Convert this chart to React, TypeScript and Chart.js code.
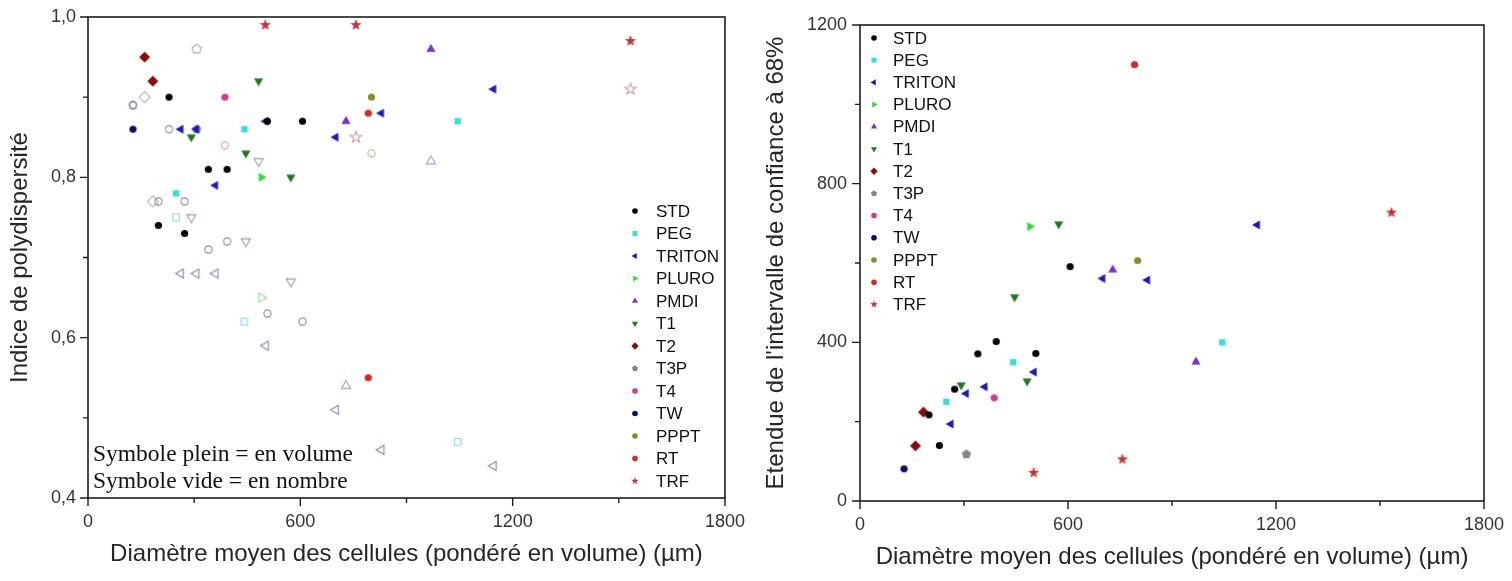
import React, { useEffect, useRef } from 'react';
import { Chart, registerables } from 'chart.js';
Chart.register(...registerables);

// ---------------- DATA ----------------
// D = volume-weighted mean cell diameter (µm)
// PDI_V = polydispersity (volume), PDI_N = polydispersity (number), IC = 68% CI width
const STD_D = [199, 229, 273, 340, 393, 507, 606];
const STD_PDI_V = [0.74, 0.9, 0.73, 0.81, 0.81, 0.87, 0.87];
const STD_PDI_N = [0.77, 0.86, 0.77, 0.71, 0.72, 0.63, 0.62];
const STD_IC = [217, 140, 282, 371, 402, 372, 591];

const PEG_D = [249, 442, 1045];
const PEG_PDI_V = [0.78, 0.86, 0.87];
const PEG_PDI_N = [0.75, 0.62, 0.47];
const PEG_IC = [250, 350, 400];

const TRITON_D = [262, 306, 360, 502, 700, 829, 1146];
const TRITON_PDI_V = [0.86, 0.86, 0.79, 0.87, 0.85, 0.88, 0.91];
const TRITON_PDI_N = [0.68, 0.68, 0.68, 0.59, 0.51, 0.46, 0.44];
const TRITON_IC = [194, 271, 288, 325, 561, 557, 696];

const PLURO_D = [490];
const PLURO_PDI_V = [0.8];
const PLURO_PDI_N = [0.65];
const PLURO_IC = [692];

const PMDI_D = [729, 969];
const PMDI_PDI_V = [0.87, 0.96];
const PMDI_PDI_N = [0.54, 0.82];
const PMDI_IC = [583, 351];

const T1_D = [292, 446, 482, 573];
const T1_PDI_V = [0.85, 0.83, 0.92, 0.8];
const T1_PDI_N = [0.75, 0.72, 0.82, 0.67];
const T1_IC = [292, 514, 302, 698];

const T2_D = [160, 183];
const T2_PDI_V = [0.95, 0.92];
const T2_PDI_N = [0.9, 0.77];
const T2_IC = [139, 224];

const T3P_D = [307];
const T3P_PDI_V = [0.86];
const T3P_PDI_N = [0.96];
const T3P_IC = [118];

const T4_D = [387];
const T4_PDI_V = [0.9];
const T4_PDI_N = [0.84];
const T4_IC = [260];

const TW_D = [127];
const TW_PDI_V = [0.86];
const TW_PDI_N = [0.89];
const TW_IC = [81];

const PPPT_D = [801];
const PPPT_PDI_V = [0.9];
const PPPT_PDI_N = [0.83];
const PPPT_IC = [606];

const RT_D = [792];
const RT_PDI_V = [0.88];
const RT_PDI_N = [0.55];
const RT_IC = [1100];

const TRF_D = [501, 757, 1533];
const TRF_PDI_V = [0.99, 0.99, 0.97];
const TRF_PDI_N = [null, 0.85, 0.91];
const TRF_IC = [71, 105, 727];

const X_TICKS = [0, 600, 1200, 1800];
const LEFT_Y_TICKS = [0.4, 0.6, 0.8, 1.0];
const RIGHT_Y_TICKS = [0, 400, 800, 1200];

const X_TITLE = 'Diamètre moyen des cellules (pondéré en volume) (µm)';
const LEFT_Y_TITLE = 'Indice de polydispersité';
const RIGHT_Y_TITLE = "Etendue de l'intervalle de confiance à 68%";
const NOTE_LINES = ['Symbole plein = en volume', 'Symbole vide = en nombre'];

// ---------------- STYLES ----------------
type Shape = 'circle' | 'square' | 'triLeft' | 'triRight' | 'triUp' | 'triDown' | 'diamond' | 'pentagon' | 'star';

const STYLE: Record<string, { color: string; open: string; shape: Shape; openFilled?: boolean }> = {
  STD: { color: '#000000', open: '#8c8c8c', shape: 'circle' },
  PEG: { color: '#38dede', open: '#7fd6d6', shape: 'square' },
  TRITON: { color: '#1818c8', open: '#8888bb', shape: 'triLeft' },
  PLURO: { color: '#30dc30', open: '#8ede8e', shape: 'triRight' },
  PMDI: { color: '#7b2fd3', open: '#ad98cf', shape: 'triUp' },
  T1: { color: '#1d7a1d', open: '#8fa88f', shape: 'triDown' },
  T2: { color: '#8b0a0a', open: '#c4aebd', shape: 'diamond' },
  T3P: { color: '#858585', open: '#a8a8a8', shape: 'pentagon' },
  T4: { color: '#e0348c', open: '#d8a0b4', shape: 'circle' },
  TW: { color: '#0c0c70', open: '#4c4c96', shape: 'circle' },
  PPPT: { color: '#8c8c22', open: '#bcbc96', shape: 'circle' },
  RT: { color: '#e02424', open: '#e02424', shape: 'circle', openFilled: true },
  TRF: { color: '#cc3333', open: '#d89a9a', shape: 'star' },
};

const SERIES = [
  { name: 'STD', d: STD_D, v: STD_PDI_V, n: STD_PDI_N, ic: STD_IC },
  { name: 'PEG', d: PEG_D, v: PEG_PDI_V, n: PEG_PDI_N, ic: PEG_IC },
  { name: 'TRITON', d: TRITON_D, v: TRITON_PDI_V, n: TRITON_PDI_N, ic: TRITON_IC },
  { name: 'PLURO', d: PLURO_D, v: PLURO_PDI_V, n: PLURO_PDI_N, ic: PLURO_IC },
  { name: 'PMDI', d: PMDI_D, v: PMDI_PDI_V, n: PMDI_PDI_N, ic: PMDI_IC },
  { name: 'T1', d: T1_D, v: T1_PDI_V, n: T1_PDI_N, ic: T1_IC },
  { name: 'T2', d: T2_D, v: T2_PDI_V, n: T2_PDI_N, ic: T2_IC },
  { name: 'T3P', d: T3P_D, v: T3P_PDI_V, n: T3P_PDI_N, ic: T3P_IC },
  { name: 'T4', d: T4_D, v: T4_PDI_V, n: T4_PDI_N, ic: T4_IC },
  { name: 'TW', d: TW_D, v: TW_PDI_V, n: TW_PDI_N, ic: TW_IC },
  { name: 'PPPT', d: PPPT_D, v: PPPT_PDI_V, n: PPPT_PDI_N, ic: PPPT_IC },
  { name: 'RT', d: RT_D, v: RT_PDI_V, n: RT_PDI_N, ic: RT_IC },
  { name: 'TRF', d: TRF_D, v: TRF_PDI_V, n: TRF_PDI_N, ic: TRF_IC },
];

const SANS = '"Liberation Sans", Arial, sans-serif';
Chart.defaults.font.family = SANS;

function pathShape(ctx: CanvasRenderingContext2D, shape: Shape, x: number, y: number, r: number) {
  ctx.beginPath();
  const poly = (n: number, a0: number, rad: (k: number) => number) => {
    for (let k = 0; k < n; k++) {
      const a = a0 + (k * 2 * Math.PI) / n;
      const px = x + Math.cos(a) * rad(k);
      const py = y + Math.sin(a) * rad(k);
      if (k) ctx.lineTo(px, py);
      else ctx.moveTo(px, py);
    }
    ctx.closePath();
  };
  switch (shape) {
    case 'circle':
      ctx.arc(x, y, r, 0, Math.PI * 2);
      break;
    case 'square': {
      const s = r * 0.85;
      ctx.rect(x - s, y - s, 2 * s, 2 * s);
      break;
    }
    case 'triUp':
      poly(3, -Math.PI / 2, () => r * 1.2);
      break;
    case 'triDown':
      poly(3, Math.PI / 2, () => r * 1.2);
      break;
    case 'triLeft':
      poly(3, Math.PI, () => r * 1.2);
      break;
    case 'triRight':
      poly(3, 0, () => r * 1.2);
      break;
    case 'diamond':
      poly(4, -Math.PI / 2, () => r * 1.25);
      break;
    case 'pentagon':
      poly(5, -Math.PI / 2, () => r * 1.1);
      break;
    case 'star':
      poly(10, -Math.PI / 2, (k) => (k % 2 ? r * 0.55 : r * 1.35));
      break;
  }
}

function markerImage(shape: Shape, r: number, color: string, filled: boolean) {
  const size = Math.ceil(r * 3 + 4);
  const c = document.createElement('canvas');
  c.width = size;
  c.height = size;
  const ctx = c.getContext('2d')!;
  pathShape(ctx, shape, size / 2, size / 2, r);
  if (filled) {
    ctx.fillStyle = color;
    ctx.fill();
  } else {
    ctx.strokeStyle = color;
    ctx.lineWidth = 1.1;
    ctx.stroke();
  }
  return c;
}

function markerRadius(shape: Shape) {
  if (shape === 'circle') return 3.6;
  if (shape === 'square') return 3.8;
  return 4.4;
}

function framePlugin(minorX: number[], majorX: number[], minorY: number[], majorY: number[]) {
  return {
    id: 'frameTicks',
    afterDraw(chart: any) {
      const { ctx, chartArea } = chart;
      const { left, right, top, bottom } = chartArea;
      const xs = chart.scales.x;
      const ys = chart.scales.y;
      ctx.save();
      ctx.strokeStyle = '#1e1e1e';
      ctx.lineWidth = 1.6;
      ctx.strokeRect(left, top, right - left, bottom - top);
      ctx.lineWidth = 1.4;
      ctx.beginPath();
      for (const v of minorX) {
        const p = xs.getPixelForValue(v);
        ctx.moveTo(p, bottom);
        ctx.lineTo(p, bottom + 5);
      }
      for (const v of majorX) {
        const p = xs.getPixelForValue(v);
        ctx.moveTo(p, bottom);
        ctx.lineTo(p, bottom + 8);
      }
      for (const v of minorY) {
        const p = ys.getPixelForValue(v);
        ctx.moveTo(left, p);
        ctx.lineTo(left - 5, p);
      }
      for (const v of majorY) {
        const p = ys.getPixelForValue(v);
        ctx.moveTo(left, p);
        ctx.lineTo(left - 8, p);
      }
      ctx.stroke();
      ctx.restore();
    },
  };
}

function legendPlugin(x: number, tx: number, y0: number, dy: number, r: number) {
  return {
    id: 'customLegend',
    afterDraw(chart: any) {
      const ctx: CanvasRenderingContext2D = chart.ctx;
      ctx.save();
      SERIES.forEach((s, i) => {
        const st = STYLE[s.name];
        const y = y0 + i * dy;
        pathShape(ctx, st.shape, x, y, st.shape === 'circle' ? r : r * 1.05);
        ctx.fillStyle = st.color;
        ctx.fill();
        ctx.fillStyle = '#111';
        ctx.font = `17px ${SANS}`;
        ctx.textBaseline = 'middle';
        ctx.textAlign = 'left';
        ctx.fillText(s.name, tx, y + 1);
      });
      ctx.restore();
    },
  };
}

function xScale(axisHeight: number, titlePadBottom: number) {
  return {
    type: 'linear',
    min: 0,
    max: 1800,
    afterFit: (s: any) => {
      s.height = axisHeight;
    },
    afterBuildTicks: (s: any) => {
      s.ticks = [0, 300, 600, 900, 1200, 1500, 1800].map((v) => ({ value: v }));
    },
    ticks: {
      autoSkip: false,
      maxRotation: 0,
      padding: 5,
      color: '#333',
      font: { size: 18 },
      callback: (v: number) => (X_TICKS.includes(v) ? String(v) : ''),
    },
    grid: { display: false, drawTicks: true, tickLength: 8 },
    border: { display: false },
    title: {
      display: true,
      text: X_TITLE,
      color: '#262626',
      font: { size: 24 },
      padding: { top: 0, bottom: titlePadBottom },
    },
  };
}

function leftConfig(): any {
  const datasets: any[] = [];
  SERIES.forEach((s) => {
    const st = STYLE[s.name];
    datasets.push({
      label: s.name,
      data: s.d.map((d, i) => ({ x: d, y: s.v[i] })),
      pointStyle: markerImage(st.shape, markerRadius(st.shape), st.color, true),
      pointRadius: 4,
    });
  });
  SERIES.forEach((s) => {
    const st = STYLE[s.name];
    datasets.push({
      label: s.name + ' (nombre)',
      data: s.d.map((d, i) => ({ x: d, y: s.n[i] })).filter((p) => p.y !== null),
      pointStyle: markerImage(st.shape, markerRadius(st.shape), st.open, !!st.openFilled),
      pointRadius: 4,
    });
  });
  return {
    type: 'scatter',
    data: { datasets },
    options: {
      responsive: true,
      maintainAspectRatio: false,
      animation: false,
      layout: { padding: { left: 0, right: 20, top: 17, bottom: 0 } },
      plugins: { legend: { display: false }, tooltip: { enabled: false } },
      scales: {
        x: xScale(83, 12),
        y: {
          type: 'linear',
          min: 0.4,
          max: 1.0,
          afterFit: (s: any) => {
            s.width = 88;
          },
          afterBuildTicks: (s: any) => {
            s.ticks = [0.4, 0.5, 0.6, 0.7, 0.8, 0.9, 1.0].map((v) => ({ value: v }));
          },
          ticks: {
            autoSkip: false,
            padding: 4,
            color: '#333',
            font: { size: 18 },
            callback: (v: number) =>
              LEFT_Y_TICKS.some((t) => Math.abs(t - v) < 1e-6) ? v.toFixed(1).replace('.', ',') : '',
          },
          grid: { display: false, drawTicks: true, tickLength: 8 },
          border: { display: false },
          title: {
            display: true,
            text: LEFT_Y_TITLE,
            color: '#262626',
            font: { size: 24 },
            padding: { top: 6, bottom: 0 },
          },
        },
      },
    },
    plugins: [
      framePlugin([300, 900, 1500], X_TICKS, [0.5, 0.7, 0.9], LEFT_Y_TICKS),
      legendPlugin(635, 656, 211, 22.5, 2.8),
    ],
  };
}

function rightConfig(): any {
  const datasets: any[] = SERIES.map((s) => {
    const st = STYLE[s.name];
    return {
      label: s.name,
      data: s.d.map((d, i) => ({ x: d, y: s.ic[i] })),
      pointStyle: markerImage(st.shape, markerRadius(st.shape), st.color, true),
      pointRadius: 4,
    };
  });
  return {
    type: 'scatter',
    data: { datasets },
    options: {
      responsive: true,
      maintainAspectRatio: false,
      animation: false,
      layout: { padding: { left: 0, right: 28, top: 25, bottom: 0 } },
      plugins: { legend: { display: false }, tooltip: { enabled: false } },
      scales: {
        x: xScale(80, 9),
        y: {
          type: 'linear',
          min: 0,
          max: 1200,
          afterFit: (s: any) => {
            s.width = 110;
          },
          afterBuildTicks: (s: any) => {
            s.ticks = [0, 200, 400, 600, 800, 1000, 1200].map((v) => ({ value: v }));
          },
          ticks: {
            autoSkip: false,
            padding: 5,
            color: '#333',
            font: { size: 18 },
            callback: (v: number) => (RIGHT_Y_TICKS.includes(v) ? String(v) : ''),
          },
          grid: { display: false, drawTicks: true, tickLength: 8 },
          border: { display: false },
          title: {
            display: true,
            text: RIGHT_Y_TITLE,
            color: '#262626',
            font: { size: 24 },
            padding: { top: 12, bottom: 0 },
          },
        },
      },
    },
    plugins: [
      framePlugin([300, 900, 1500], X_TICKS, [200, 600, 1000], RIGHT_Y_TICKS),
      legendPlugin(124, 143, 38, 22.2, 2.8),
    ],
  };
}

function ChartBox({ make, left, width }: { make: () => any; left: number; width: number }) {
  const ref = useRef<HTMLCanvasElement>(null);
  useEffect(() => {
    const chart = new Chart(ref.current!, make());
    return () => chart.destroy();
  }, []);
  return (
    <div style={{ position: 'absolute', left, top: 0, width, height: 581 }}>
      <canvas ref={ref} />
    </div>
  );
}

export default function App() {
  return (
    <div style={{ position: 'absolute', left: 0, top: 0, width: 1512, height: 581, background: '#fff', overflow: 'hidden' }}>
      <ChartBox make={leftConfig} left={0} width={750} />
      <ChartBox make={rightConfig} left={750} width={762} />
      <div
        style={{
          position: 'absolute',
          left: 93,
          top: 440,
          fontFamily: '"Liberation Serif", "Times New Roman", serif',
          fontSize: 23.5,
          lineHeight: '27px',
          color: '#111',
          whiteSpace: 'nowrap',
        }}
      >
        {NOTE_LINES.map((l) => (
          <div key={l}>{l}</div>
        ))}
      </div>
    </div>
  );
}
